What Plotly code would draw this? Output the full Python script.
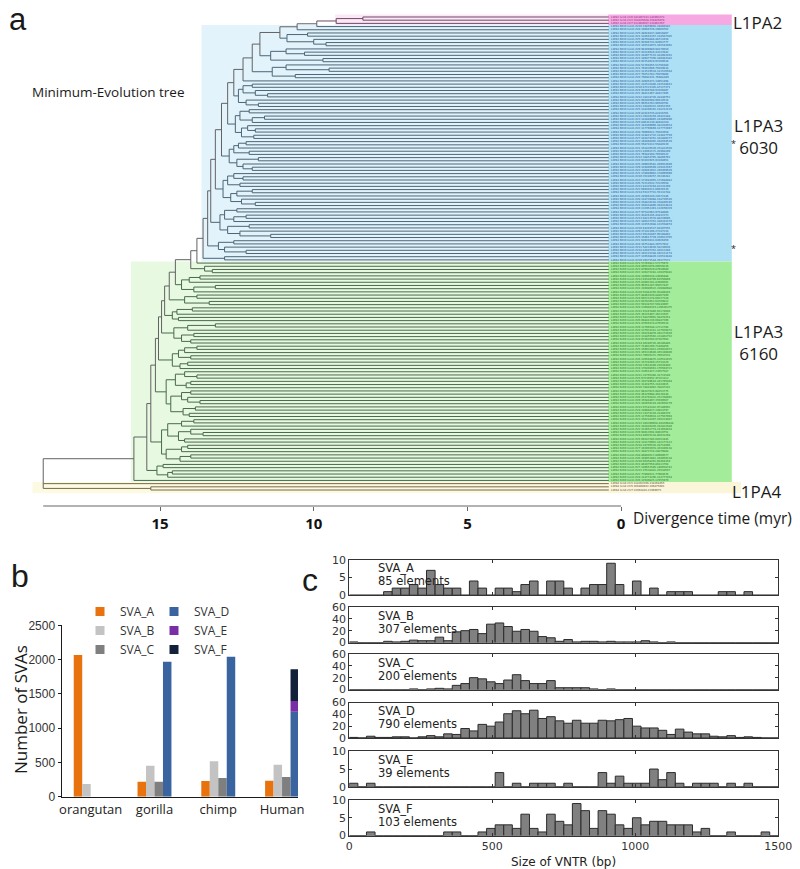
import plotly.graph_objects as go

W, H = 800, 869


def px(x):
    return x / W


def py(y):
    return 1 - y / H


# ------------------------------------------------------------------ panel a data
# Minimum-evolution tree; internal nodes annotated with age (myr),
# leaves coded by family: A=L1PA2, B=L1PA3 6030, G=L1PA3 6160, D=L1PA4
T1 = "((((A,A)8.4,A)9.27,B)9.9,B)10.54"
T2 = "((B,B)10.2,(B,(B,B)9.6)10.0)10.87"
T3 = f"({T1},{T2})11.1"
T4 = "((B,(B,B)10.3)10.9,(B,B)9.7)11.4"
T5 = f"({T3},{T4})11.75"
T6 = "((B,(B,B)9.5)10.9,(B,B)10.6)11.35"
T7 = f"({T5},{T6})12.0"
T8 = f"({T7},B)12.3"
M1 = "((B,B)12.0,(B,(B,B)11.5)11.9)12.3"
M2 = "(B,(B,B)11.8)12.2"
U1 = f"({T8},({M1},{M2})12.45)12.6"
M4 = "((B,B)12.1,((B,B)11.6,B)12.0)12.4"
M5 = "((B,(B,B)11.9)12.15,(B,B)11.95)12.35"
U2 = f"({U1},({M4},{M5})12.55)12.8"
M6 = "(((B,B)12.2,B)12.45,(B,B)12.1)12.6"
M7 = "((B,B)11.8,(B,(B,B)12.0)12.3)12.5"
U3 = f"({U2},({M6},{M7})12.75)13.0"
M8 = "((B,(B,B)12.3)12.6,(B,B)12.4)12.8"
M9 = "(((B,B)12.0,B)12.5,(B,(B,B)11.9)12.35)12.7"
U4 = f"({U3},({M8},{M9})12.95)13.2"
M10 = "((B,B)12.5,((B,B)12.2,B)12.6)12.9"
M11 = "((B,B)12.1,(B,(B,B)11.4)12.4)12.8"
U5 = f"({U4},({M10},{M11})13.05)13.35"
M12 = "((B,B)12.6,(B,(B,B)12.2)12.9)13.1"
U6 = f"({U5},{M12})13.45"
BLUE = f"({U6},(B,B)12.9)13.6"
JUNCTION = f"(({BLUE},G)13.8,(G,(G,G)13.3)13.55)14.0"
GA = "(((G,G)13.7,G)14.05,((G,G)13.2,G)13.9)14.3"
GB = "((G,G)13.8,(G,G)13.4)14.2"
GC = "((G,G)13.95,G)14.45"
GD = "(G,G)14.4"
GE = "(((G,G)13.2,G)14.1,((G,G)13.9,(G,G)14.0)14.3)14.55"
GF = "((((G,G)13.8,G)14.2,(G,G)14.0)14.4,((G,G)14.1,G)14.35)14.6"
GG = "((G,(G,G)13.8)14.2,((G,G)14.0,G)14.15)14.5"
GH = "(((G,G)14.0,(G,(G,G)13.7)14.1)14.3,((G,G)13.85,(G,G)14.05)14.25)14.65"
GI = "(((G,G)13.9,G)14.3,((G,(G,G)13.6)14.0,(G,G)14.2)14.4)14.75"
GJ = "(((G,G)14.1,G)14.3,((G,G)14.0,G)14.35)14.8"
GK = "((G,G)14.9,((G,G)14.6,G)14.75)15.1"
L1 = f"({JUNCTION},{GA})14.5"
L2 = f"({L1},{GB})14.7"
L3 = f"({L2},({GC},{GD})14.6)14.85"
L4 = f"({L3},{GE})14.95"
L5 = f"({L4},{GF})15.05"
L6 = f"({L5},({GG},{GH})14.8)15.15"
L7 = f"({L6},({GI},{GJ})14.95)15.3"
L8 = f"({L7},{GK})15.43"
BIG = f"({L8},G)15.85"
TREE = f"({BIG},D,(D,D)15.3)18.8"

PA2_LOCI = ["chr6:141897243-141993272", "chr2:158435048-158435078",
            "chr7:112864507-112863767"]
L6030_LOCI = [
    "chr16:24859016-24860342", "chr8:19660736-19660762", "chr5:48016837-48016867",
    "chr1:118561357-118567385", "chr5:48704888-48711034", "chr5:92046731-92063777",
    "chr1:102543073-102541091", "chr9:98109989-98170010", "chr7:43216616-43222642",
    "chr1:183077133-183083161", "chr1:189477356-189483382", "chr4:92254610-92260638",
    "chr8:51760455-51766480", "chr1:79163606-79169634", "chr3:111520534-111526564",
    "chr7:79253783-79259808", "chrX:76082421-76088449", "chr6:34945472-34951498",
    "chr2:142532886-142538913", "chr10:87221345-87227371", "chr4:93160780-93166807",
    "chr1:48411467-48417495", "chr12:28434726-28440752", "chr3:99104508-99110534",
    "chr5:96554763-96560791", "chr11:10446322-10452350", "chr5:118206101-118212129",
    "chr9:82410735-82416761", "chr13:26416159-26422188", "chr3:143889865-143895890",
    "chrX:88632310-88638338", "chr1:182409996-182416024", "chr2:117766669-117772697",
    "chr8:70096621-70102650", "chr4:114811732-114817759", "chr7:181874251-181880277",
    "chr3:168498492-168504520", "chr6:55874112-55880139", "chr1:151826530-151832556",
    "chr21:41962171-41968199", "chr1:76584104-76590132", "chr12:38854765-38860793",
    "chr4:93102925-93108951", "chr5:109926581-109932609", "chr9:119406569-119412597",
    "chr2:240463912-240469939", "chr1:178089962-178095990", "chr10:35240257-35246283",
    "chr3:172682055-172688083", "chr6:72214532-72220558", "chr11:83325164-83331190",
    "chr2:66930111-66936139", "chr14:55327721-55333748", "chr5:24566320-24572346",
    "chr8:118730488-118736516", "chr4:158834218-158840246", "chr1:204318806-204324834",
    "chrX:112653201-112659229", "chr7:97542063-97548089", "chr3:41826345-41832373",
    "chr13:88213578-88219606", "chr2:180337251-180343279", "chr6:131552048-131558074",
    "chr16:64301527-64307555", "chr9:27341206-27347234", "chr12:95102867-95108893",
    "chr5:150617739-150623765", "chr1:64920431-64926459", "chr4:30751884-30757912",
    "chr11:58224610-58230636", "chr18:41607352-41613380", "chr3:192115248-192121274",
    "chr7:116508820-116514848", "chr20:29371544-29377572"]
L6160_LOCI = [
    "chr1:57269812-57275972", "chr4:89553076-89559236", "chr3:87904520-87910680",
    "chr2:126473281-126479441", "chr8:14690328-14696488", "chr12:61544709-61550869",
    "chr5:83002341-83008501", "chr6:99351287-99357447", "chr1:216080522-216086682",
    "chr10:92883256-92889416", "chr7:88461039-88467199", "chr4:60221178-60227338",
    "chr3:64783652-64789812", "chr2:50138747-50144907", "chrX:129640215-129646375",
    "chr11:93167880-93174040", "chr5:36225407-36231567", "chr13:58470091-58476251",
    "chr6:66841236-66847396", "chr1:87650374-87656534", "chr9:12706548-12712708",
    "chr4:127933311-127939471", "chr2:191264870-191271030", "chr3:131855592-131861752",
    "chr8:97361504-97367664", "chr14:46280726-46286886", "chr7:71402299-71408459",
    "chr5:159022813-159028973", "chr1:165334640-165340800", "chr12:70926371-70932531",
    "chr6:120504875-120511035", "chr2:15728169-15734329", "chr10:23614280-23620440",
    "chr4:176498563-176504723", "chr3:23051427-23057587", "chr11:31705386-31711546",
    "chrX:97216952-97223112", "chr5:101789644-101795804", "chr1:31428755-31434915",
    "chr16:78841082-78847242", "chr2:98347615-98353775", "chr8:46129988-46136148",
    "chr6:151702831-151708991", "chr9:35584407-35590567", "chr3:102650119-102656279",
    "chr13:97183342-97189502", "chr4:24908637-24914797", "chr11:21474110-21480270",
    "chr5:127560934-127567094", "chr3:156218307-156224467", "chr12:104390658-104396818",
    "chr1:242816420-242822580", "chr2:213652774-213658934", "chr9:94013591-94019751",
    "chr14:86925138-86931298", "chr5:60347285-60353445", "chr4:141170963-141177123",
    "chr18:28705536-28711696", "chr7:103093978-103100138", "chr2:28873728-28879888",
    "chr8:80894517-80900677", "chr6:104053083-104059238", "chr10:66458201-66464359",
    "chr1:86107550-86113704", "chr7:146652586-146658743", "chr21:15538441-15544597",
    "chr2:77898521-77904676", "chr4:114771296-114777454", "chr6:12549825-12555979"]
PA4_LOCI = ["chr1:118262296-118268455", "chr5:166808942-166875601",
            "chr7:22963816-22969975"]
TICK_MYR = [15, 10, 5, 0]

# ------------------------------------------------------------------ panel b data
species = ["orangutan", "gorilla", "chimp", "Human"]
sva_a = [2067, 219, 229, 233]
sva_b = [185, 452, 516, 467]
sva_c = [None, 219, 272, 287]
sva_d = [None, 1970, 2043, 1240]
sva_e = [None, None, None, 156]
sva_f = [None, None, None, 462]

# ------------------------------------------------------------------ panel c data
hist_names = ["SVA_A", "SVA_B", "SVA_C", "SVA_D", "SVA_E", "SVA_F"]
hist_elements = ["85 elements", "307 elements", "200 elements",
                 "790 elements", "39 elements", "103 elements"]
BIN_W = 30
hist_a = [0, 0, 0, 0, 1, 2, 2, 3, 2, 7, 3, 2, 2, 0, 4, 2, 0, 2, 2, 1,
          3, 4, 0, 4, 4, 2, 0, 2, 3, 3, 9, 3, 0, 4, 0, 2, 0, 1, 1, 1,
          0, 0, 0, 1, 1, 0, 1, 0, 0, 0]
hist_b = [1, 0, 0, 0, 2, 1, 2, 4, 3, 3, 9, 3, 18, 20, 22, 15, 31, 33, 27, 19,
          22, 19, 10, 8, 2, 5, 1, 2, 2, 1, 2, 1, 1, 1, 3, 1, 0, 1, 0, 0,
          0, 0, 0, 0, 0, 0, 0, 0, 0, 0]
hist_c = [0, 0, 0, 0, 0, 0, 0, 1, 0, 1, 2, 1, 7, 10, 20, 18, 13, 10, 16, 25,
          15, 10, 10, 15, 3, 3, 3, 3, 1, 0, 1, 0, 0, 0, 0, 0, 0, 0, 0, 0,
          0, 0, 0, 0, 0, 0, 0, 0, 0, 0]
hist_d = [1, 0, 3, 1, 1, 2, 2, 0, 2, 4, 2, 7, 6, 16, 12, 23, 20, 27, 41, 46,
          41, 47, 33, 36, 29, 25, 30, 25, 25, 30, 29, 31, 33, 20, 17, 17, 13, 6, 15, 10,
          7, 7, 3, 2, 4, 1, 2, 1, 0, 0]
hist_e = [1, 0, 1, 0, 0, 0, 0, 0, 0, 0, 0, 0, 0, 0, 0, 0, 0, 4, 0, 1,
          0, 1, 1, 1, 0, 1, 0, 0, 0, 4, 1, 3, 1, 1, 1, 5, 2, 4, 1, 0,
          1, 1, 1, 0, 1, 0, 1, 0, 0, 0]
hist_f = [0, 0, 1, 0, 0, 0, 0, 0, 0, 0, 0, 1, 1, 0, 0, 1, 2, 3, 3, 2,
          6, 2, 1, 6, 4, 3, 9, 7, 2, 7, 6, 3, 2, 5, 3, 4, 4, 3, 3, 3,
          1, 2, 0, 0, 1, 0, 0, 0, 1, 0]
hist_ymax = [10, 60, 60, 60, 10, 10]
hist_yticks = [[0, 5, 10], [0, 20, 40, 60], [0, 20, 40, 60], [0, 20, 40, 60],
               [0, 5, 10], [0, 5, 10]]
hist_xticks = [0, 500, 1000, 1500]


# ------------------------------------------------------------------ tree parsing
def parse_newick(s):
    s = s.replace(" ", "")
    pos = 0

    def node():
        nonlocal pos
        if s[pos] == "(":
            pos += 1
            kids = [node()]
            while s[pos] == ",":
                pos += 1
                kids.append(node())
            pos += 1  # ')'
            st = pos
            while pos < len(s) and (s[pos].isdigit() or s[pos] == "."):
                pos += 1
            return {"age": float(s[st:pos]), "kids": kids}
        fam = s[pos]
        pos += 1
        return {"age": 0.0, "fam": fam}

    return node()


tree = parse_newick(TREE)
leaves = []


def place(n):
    if "kids" not in n:
        n["y"] = len(leaves)
        leaves.append(n)
        n["fams"] = {n["fam"]}
        return
    fs = set()
    for k in n["kids"]:
        place(k)
        fs |= k["fams"]
    n["fams"] = fs
    n["y"] = (n["kids"][0]["y"] + n["kids"][-1]["y"]) / 2


place(tree)

TIP_END = 0.4     # where terminal branches stop (label column starts)
LABEL_X = 0.33

FAM = {
    "A": dict(prefix="L1PA2 3end ", line="#6d4a66", text="#8a1f78", loci=PA2_LOCI,
              light="#fde6f6", dark="#f5a8e2", left=9.3, pad=(-0.75, 0.5)),
    "B": dict(prefix="L1PA3 6030 3end ", line="#4b6676", text="#234a8c", loci=L6030_LOCI,
              light="#e2f3fb", dark="#ade0f4", left=13.65, pad=(-0.5, 0.5)),
    "G": dict(prefix="L1PA3 6160 3end ", line="#4a6a4c", text="#22662a", loci=L6160_LOCI,
              light="#e7f9e1", dark="#a3ec99", left=15.95, pad=(-0.5, 0.5)),
    "D": dict(prefix="L1PA4 3end ", line="#766a45", text="#4d4228", loci=PA4_LOCI,
              light="#fdfae4", dark="#fbf6da", left=19.15, pad=(-0.5, 1.0)),
}
MIXED = "#626262"

segs = {}


def add(key, x0, y0, x1, y1):
    xs, ys = segs.setdefault(key, ([], []))
    xs += [x0, x1, None]
    ys += [y0, y1, None]


def draw(n, parent_age):
    key = next(iter(n["fams"])) if len(n["fams"]) == 1 else "M"
    end = n["age"] if "kids" in n else TIP_END
    if parent_age is not None:
        add(key, parent_age, n["y"], end, n["y"])
    if "kids" in n:
        add(key, n["age"], n["kids"][0]["y"], n["age"], n["kids"][-1]["y"])
        for k in n["kids"]:
            draw(k, n["age"])


draw(tree, None)

fig = go.Figure()

for key, (xs, ys) in segs.items():
    col = MIXED if key == "M" else FAM[key]["line"]
    fig.add_trace(go.Scatter(x=xs, y=ys, mode="lines", line=dict(color=col, width=1),
                             hoverinfo="skip", showlegend=False, xaxis="x", yaxis="y"))

counters = {k: 0 for k in FAM}
lab = {k: ([], [], []) for k in FAM}
for lf in leaves:
    f = lf["fam"]
    txt = FAM[f]["prefix"] + FAM[f]["loci"][counters[f] % len(FAM[f]["loci"])]
    counters[f] += 1
    lab[f][0].append(LABEL_X)
    lab[f][1].append(lf["y"])
    lab[f][2].append(txt)
for f, (xs, ys, ts) in lab.items():
    fig.add_trace(go.Scatter(x=xs, y=ys, text=ts, mode="text", textposition="middle right",
                             textfont=dict(family="DejaVu Sans", size=2.6,
                                           color=FAM[f]["text"]),
                             cliponaxis=False, hoverinfo="skip", showlegend=False,
                             xaxis="x", yaxis="y"))

shapes = []
for f, st in FAM.items():
    idx = [lf["y"] for lf in leaves if lf["fam"] == f]
    y0 = min(idx) + st["pad"][0]
    y1 = max(idx) + st["pad"][1]
    shapes.append(dict(type="rect", xref="x", yref="y", x0=st["left"], x1=0.42,
                       y0=y0, y1=y1, fillcolor=st["light"], line_width=0, layer="below"))
    shapes.append(dict(type="rect", xref="x", yref="y", x0=0.42, x1=-3.6 if f != "D" else -3.9,
                       y0=y0, y1=y1, fillcolor=st["dark"], line_width=0, layer="below"))
# time-axis line
shapes.append(dict(type="line", xref="x", yref="y domain", x0=tree["age"], x1=0,
                   y0=0, y1=0, line=dict(color="#666666", width=1)))

# ------------------------------------------------------------------ panel b traces
BW = 0.133
SVA_COL = {"SVA_A": "#e8730e", "SVA_B": "#c3c3c3", "SVA_C": "#7f7f7f",
           "SVA_D": "#3a64a0", "SVA_E": "#7a2ea6", "SVA_F": "#13203a"}
xpos = [0, 1, 2, 3]
bar_specs = [("SVA_A", sva_a, -2 * BW, None), ("SVA_B", sva_b, -BW, None),
             ("SVA_C", sva_c, 0, None), ("SVA_D", sva_d, BW, None),
             ("SVA_E", sva_e, BW, [0, 0, 0, sva_d[3]]),
             ("SVA_F", sva_f, BW, [0, 0, 0, sva_d[3] + sva_e[3]])]
for name, vals, off, base in bar_specs:
    kw = dict(base=base) if base is not None else {}
    fig.add_trace(go.Bar(x=xpos, y=vals, width=BW, offset=off, marker_color=SVA_COL[name],
                         marker_line_width=0, showlegend=False, hoverinfo="skip",
                         xaxis="x2", yaxis="y2", **kw))
for i, name in enumerate(["SVA_A", "SVA_B", "SVA_C", "SVA_D", "SVA_E", "SVA_F"]):
    fig.add_trace(go.Scatter(x=[None], y=[None], mode="markers", name=name,
                             marker=dict(symbol="square", size=9, color=SVA_COL[name]),
                             xaxis="x2", yaxis="y2",
                             legend="legend" if i < 3 else "legend2"))

# ------------------------------------------------------------------ panel c traces
hists = [hist_a, hist_b, hist_c, hist_d, hist_e, hist_f]
centers = [BIN_W * i + BIN_W / 2 for i in range(len(hist_a))]
for i, h in enumerate(hists):
    fig.add_trace(go.Bar(x=centers, y=h, width=BIN_W,
                         marker=dict(color="#808080", line=dict(color="#2b2b2b", width=1)),
                         showlegend=False, hoverinfo="skip",
                         xaxis=f"x{i + 3}", yaxis=f"y{i + 3}"))

# ------------------------------------------------------------------ layout
layout = dict(
    width=W, height=H, margin=dict(l=0, r=0, t=0, b=0, autoexpand=False),
    paper_bgcolor="white", plot_bgcolor="rgba(0,0,0,0)",
    barmode="overlay", shapes=shapes,
    font=dict(family="Open Sans, sans-serif", color="#222222"),
)
layout["xaxis"] = dict(domain=[px(30), 1], range=[19.23, -5.82], anchor="y",
                       tickvals=TICK_MYR, ticktext=[str(t) for t in TICK_MYR],
                       ticks="outside", ticklen=4, tickcolor="#666666",
                       tickfont=dict(family="Open Sans", size=15, color="#111111", weight="bold"),
                       showline=False, showgrid=False, zeroline=False, automargin=False)
layout["yaxis"] = dict(domain=[py(506), py(12)], range=[153.0, -1.56], visible=False,
                       anchor="x")
layout["xaxis2"] = dict(domain=[px(62), px(298)], range=[-0.45, 3.25], anchor="y2",
                        tickvals=xpos, ticktext=species, ticks="",
                        tickfont=dict(family="Open Sans", size=13, color="#222222"),
                        showline=True, linecolor="#1a1a1a", linewidth=1.5,
                        showgrid=False, zeroline=False, automargin=False)
layout["yaxis2"] = dict(domain=[py(796.7), py(625.3)], range=[0, 2500], anchor="x2",
                        tickvals=[0, 500, 1000, 1500, 2000, 2500],
                        ticks="outside", ticklen=3, tickcolor="#1a1a1a",
                        tickfont=dict(family="Liberation Sans, Arial", size=12, color="#333333"),
                        showline=True, linecolor="#1a1a1a", linewidth=1.5,
                        showgrid=False, zeroline=False, automargin=False)

panel_tops = [559.7, 607.0, 654.0, 702.5, 751.3, 800.0]
PANEL_H = 35.5
for i in range(6):
    top = panel_tops[i]
    ax = i + 3
    layout[f"xaxis{ax}"] = dict(domain=[px(349.3), px(778.3)], range=[0, 1500],
                                anchor=f"y{ax}", tickvals=hist_xticks,
                                showticklabels=(i == 5), ticks="inside", ticklen=3,
                                tickcolor="#333333",
                                tickfont=dict(family="DejaVu Sans", size=11, color="#333333"),
                                showline=True, mirror="ticks", linecolor="#333333",
                                linewidth=1, showgrid=False, zeroline=False, automargin=False)
    layout[f"yaxis{ax}"] = dict(domain=[py(top + PANEL_H), py(top)],
                                range=[0, hist_ymax[i]], anchor=f"x{ax}",
                                tickvals=hist_yticks[i], ticks="inside", ticklen=3,
                                tickcolor="#333333",
                                tickfont=dict(family="DejaVu Sans", size=11, color="#333333"),
                                showline=True, mirror="ticks", linecolor="#333333",
                                linewidth=1, showgrid=False, zeroline=False, automargin=False)

layout["legend"] = dict(x=px(80), y=py(597), xanchor="left", yanchor="top",
                        bgcolor="rgba(0,0,0,0)", tracegroupgap=0,
                        font=dict(family="Open Sans", size=12, color="#333333"))
layout["legend2"] = dict(x=px(154), y=py(597), xanchor="left", yanchor="top",
                         bgcolor="rgba(0,0,0,0)", tracegroupgap=0,
                         font=dict(family="Open Sans", size=12, color="#333333"))

ann = []


def text(x, y, s, size, family="Open Sans", color="#1a1a1a", xanchor="center",
         yanchor="middle", **kw):
    ann.append(dict(x=px(x), y=py(y), xref="paper", yref="paper", text=s, showarrow=False,
                    xanchor=xanchor, yanchor=yanchor,
                    font=dict(family=family, size=size, color=color), **kw))


text(18, 0, "a", 31, family="Liberation Sans, Arial", yanchor="top")
text(20, 576, "b", 32, family="Liberation Sans, Arial")
text(310, 580, "c", 32, family="Liberation Sans, Arial")
text(30, 92, "Minimum-Evolution tree", 13.5, xanchor="left")
text(631, 518, "Divergence time (myr)", 15.5, xanchor="left")
text(757, 22, "L1PA2", 17)
text(758, 137, "L1PA3<br>6030", 17)
text(758, 342, "L1PA3<br>6160", 17)
text(757, 491, "L1PA4", 17)
text(733, 143, "*", 9)
text(733, 248, "*", 9)
text(20, 710, "Number of SVAs", 17, textangle=-90)
for i in range(6):
    top = panel_tops[i]
    text(376, top + 8.5, hist_names[i], 11.5, family="DejaVu Sans", color="#222222",
         xanchor="left")
    text(376, top + 21.5, hist_elements[i], 11.5, family="DejaVu Sans", color="#222222",
         xanchor="left")
text(563.8, 862, "Size of VNTR (bp)", 12, family="DejaVu Sans", color="#222222")
layout["annotations"] = ann

fig.update_layout(**layout)
fig.write_html("out.html",
               config={"displayModeBar": False, "staticPlot": True},
               post_script="document.body.style.margin='0px';"
                           "document.body.style.overflow='hidden';")
